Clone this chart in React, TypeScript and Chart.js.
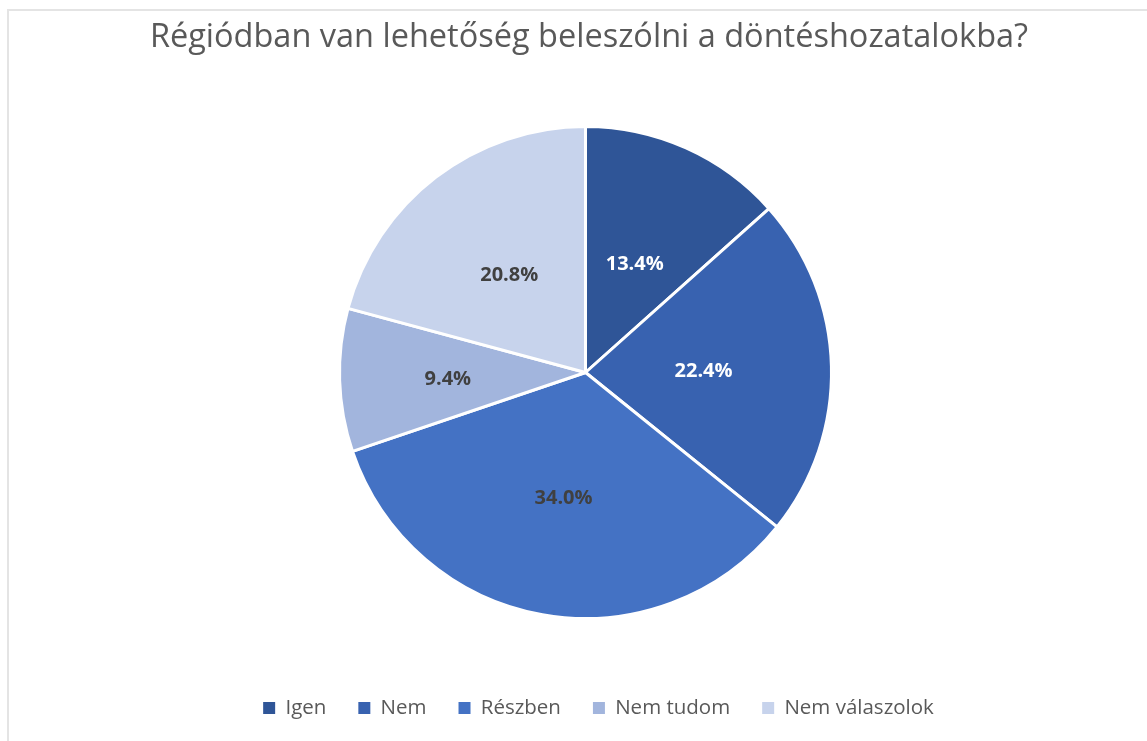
import React, { useEffect, useRef } from "react";
import { Chart, registerables } from "chart.js";

Chart.register(...registerables);

const title = "Régiódban van lehetőség beleszólni a döntéshozatalokba?";
const categories = ["Igen", "Nem", "Részben", "Nem tudom", "Nem válaszolok"];
const values = [13.4, 22.4, 34.0, 9.4, 20.8];
const colors = ["#2F5597", "#3862B0", "#4472C4", "#A2B5DD", "#C7D3EC"];
const labelColors = ["#FFFFFF", "#FFFFFF", "#404040", "#404040", "#404040"];
const labelRadius = [0.49, 0.48, 0.51, 0.56, 0.51];

const labelPlugin = {
  id: "sliceLabels",
  afterLayout(chart: any) {
    if (chart.legend) {
      chart.legend.left += 13;
      chart.legend.right += 13;
    }
    if (chart.titleBlock) {
      chart.titleBlock.left += 3.5;
      chart.titleBlock.right += 3.5;
    }
  },
  afterDatasetsDraw(chart: any) {
    const ctx = chart.ctx;
    const meta = chart.getDatasetMeta(0);
    ctx.save();
    ctx.font = "bold 20px 'Open Sans'";
    ctx.textAlign = "center";
    ctx.textBaseline = "middle";
    meta.data.forEach((arc: any, i: number) => {
      const { x, y, startAngle, endAngle, outerRadius } = arc.getProps(
        ["x", "y", "startAngle", "endAngle", "outerRadius"],
        true
      );
      const mid = (startAngle + endAngle) / 2;
      const r = outerRadius * labelRadius[i];
      ctx.fillStyle = labelColors[i];
      ctx.fillText(values[i].toFixed(1) + "%", x + Math.cos(mid) * r, y + Math.sin(mid) * r + 2);
    });
    ctx.restore();
  },
};

export default function App() {
  const ref = useRef<HTMLCanvasElement | null>(null);
  useEffect(() => {
    if (!ref.current) return;
    Chart.defaults.font.family = "'Open Sans'";
    const chart = new Chart(ref.current, {
      type: "pie",
      data: {
        labels: categories,
        datasets: [
          {
            data: values,
            backgroundColor: colors,
            borderColor: "#FFFFFF",
            borderWidth: 3,
            radius: 246,
          },
        ],
      },
      options: {
        responsive: false,
        animation: false,
        layout: { padding: { left: 24, right: 0, top: 0, bottom: 12.75 } },
        plugins: {
          title: {
            display: true,
            text: title,
            color: "#595959",
            font: { size: 32.5, weight: "normal" },
            padding: { top: 18, bottom: 22.25 },
          },
          legend: {
            position: "bottom",
            labels: {
              color: "#595959",
              font: { size: 20.5 },
              boxWidth: 12,
              boxHeight: 12,
              padding: 32,
              generateLabels: (c: any) =>
                (Chart as any).overrides.pie.plugins.legend.labels
                  .generateLabels(c)
                  .map((l: any) => ({ ...l, lineWidth: 0 })),
            },
          },
          tooltip: { enabled: false },
        },
      },
      plugins: [labelPlugin],
    });
    return () => chart.destroy();
  }, []);
  return (
    <div style={{ position: "fixed", left: 0, top: 0, width: 1147, height: 741, background: "#fff" }}>
      <canvas ref={ref} width={1147} height={741} style={{ position: "absolute", left: 0, top: 0 }} />
      <div style={{ position: "absolute", left: 7, top: 9, width: 1140, height: 2, background: "#E4E4E4" }} />
      <div style={{ position: "absolute", left: 7, top: 9, width: 2, height: 732, background: "#E4E4E4" }} />
    </div>
  );
}
